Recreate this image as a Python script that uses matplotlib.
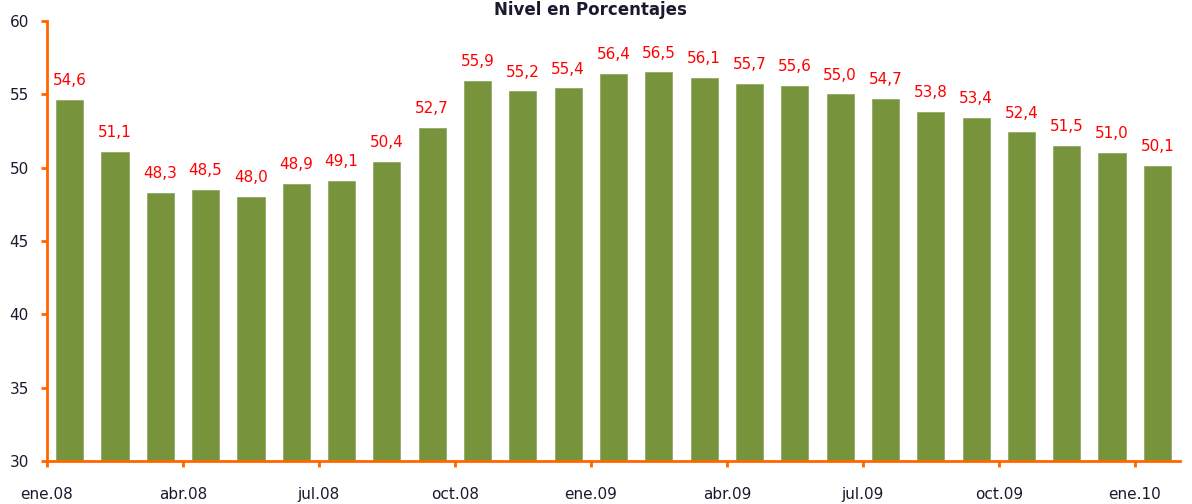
import matplotlib
matplotlib.use("Agg")
import matplotlib.pyplot as plt
import numpy as np

months = ["ene.08", "feb.08", "mar.08", "abr.08", "may.08", "jun.08", "jul.08",
          "ago.08", "sep.08", "oct.08", "nov.08", "dic.08", "ene.09", "feb.09",
          "mar.09", "abr.09", "may.09", "jun.09", "jul.09", "ago.09", "sep.09",
          "oct.09", "nov.09", "dic.09", "ene.10"]
values = [54.6, 51.1, 48.3, 48.5, 48.0, 48.9, 49.1, 50.4, 52.7, 55.9, 55.2, 55.4,
          56.4, 56.5, 56.1, 55.7, 55.6, 55.0, 54.7, 53.8, 53.4, 52.4, 51.5, 51.0, 50.1]

bar_color = "#77933C"
axis_color = "#FF6600"
text_color = "#1a1a2e"

fig = plt.figure(figsize=(11.92, 5.04), dpi=100)
ax = fig.add_axes([0.0394, 0.0853, 0.9506, 0.8730])

x = np.arange(len(values)) + 0.5
ax.bar(x, values, width=0.6, color=bar_color, edgecolor="#8aa35a", linewidth=0.5, zorder=2)

for xi, v in zip(x, values):
    ax.text(xi, v + 0.8, f"{v:.1f}".replace(".", ","), ha="center", va="bottom",
            color="#FF0000", fontsize=11)

ax.set_xlim(0, len(values))
ax.set_ylim(30, 60)
ax.set_yticks(np.arange(30, 61, 5))
ax.set_xticks(np.arange(0, len(values), 3))
ax.set_xticklabels(months[::3])

for s in ["top", "right"]:
    ax.spines[s].set_visible(False)
for s in ["left", "bottom"]:
    ax.spines[s].set_color(axis_color)
    ax.spines[s].set_linewidth(2)

ax.tick_params(axis="both", colors=axis_color, width=2, length=4, direction="out")
ax.tick_params(axis="y", pad=9, labelsize=11, labelcolor=text_color)
ax.tick_params(axis="x", pad=15, labelsize=11, labelcolor=text_color)

# title sits at the very top edge, as in the source image
fig.text(0.495, 0.999, "Nivel en Porcentajes", ha="center", va="top",
         fontsize=12, fontweight="bold", color=text_color)

fig.savefig("out.png", dpi=100)
